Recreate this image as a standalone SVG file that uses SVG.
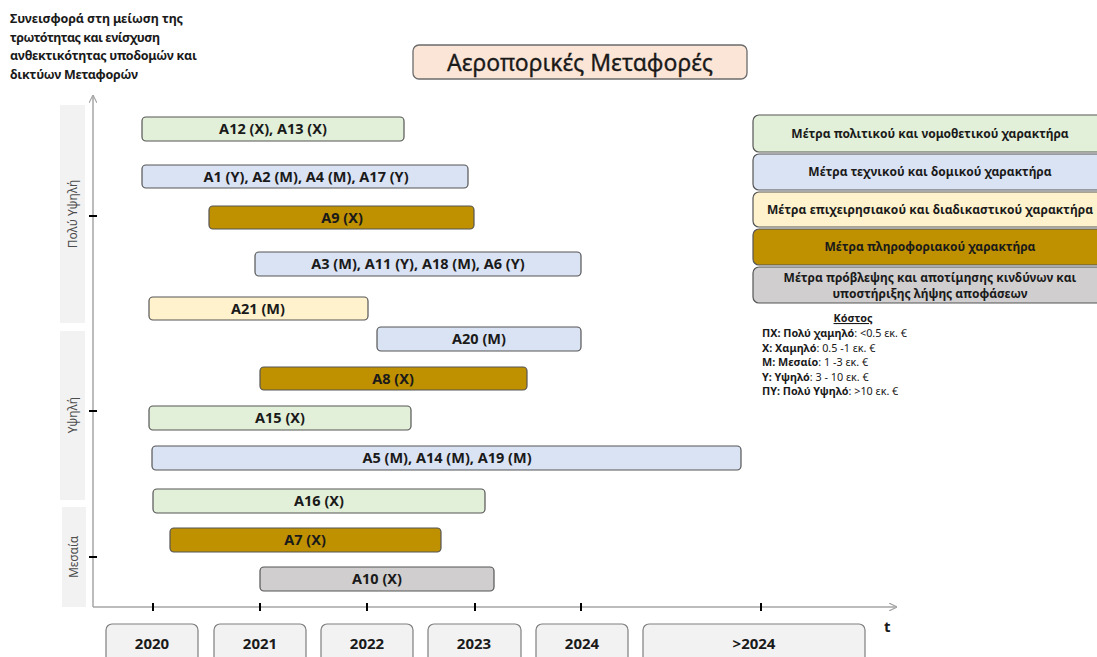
<svg xmlns="http://www.w3.org/2000/svg" width="1097" height="657" viewBox="0 0 1097 657">
  <style>
    text { font-family: "Noto Sans", "Open Sans", sans-serif; fill: #1a1a1a; }
    .b { font-weight: bold; }
    .bar { stroke: #555555; stroke-width: 1.2; }
    .green { fill: #e2f0d9; }
    .blue { fill: #dae3f3; }
    .gold { fill: #bf9000; }
    .yellow { fill: #fff2cc; }
    .grey { fill: #d0cece; }
    .band { fill: #f2f2f2; }
    .year { fill: #f2f2f2; stroke: #7f7f7f; stroke-width: 1.2; }
    .lbl { font-size: 14.5px; font-weight: bold; text-anchor: middle; }
    .yr { font-size: 15px; font-weight: bold; text-anchor: middle; }
    .leg { font-size: 12px; font-weight: bold; text-anchor: middle; }
    .axis { stroke: #a6a6a6; stroke-width: 1.5; fill: none; }
    .tick { stroke: #000; stroke-width: 2; }
    .cat { font-size: 12px; fill: #4d4d4d; text-anchor: middle; }
    .cost { font-size: 10.8px; }
  </style>
  <defs>
    <marker id="arr" viewBox="0 0 10 10" refX="10" refY="5" markerWidth="8" markerHeight="8" orient="auto" markerUnits="userSpaceOnUse">
      <path d="M0,0 L10,5 L0,10" fill="none" stroke="#a6a6a6" stroke-width="1.5"/>
    </marker>
  </defs>

  <!-- heading of the vertical axis -->
  <g id="axis-title" class="b" font-size="12.5">
    <text x="10" y="23" textLength="173">Συνεισφορά στη μείωση της</text>
    <text x="10" y="42" textLength="150">τρωτότητας και ενίσχυση</text>
    <text x="10" y="60" textLength="187">ανθεκτικότητας υποδομών και</text>
    <text x="10" y="79" textLength="128">δικτύων Μεταφορών</text>
  </g>

  <!-- main title -->
  <g id="title">
    <rect x="413" y="45" width="334" height="34" rx="6" fill="#fbe5d6" stroke="#6b6b6b" stroke-width="1.3"/>
    <text x="580" y="70.5" font-size="23" text-anchor="middle" stroke="#1a1a1a" stroke-width="0.3">Αεροπορικές Μεταφορές</text>
  </g>

  <!-- priority bands -->
  <g id="band-very-high">
    <rect class="band" x="60" y="105" width="25" height="218"/>
    <text class="cat" transform="translate(77,214) rotate(-90)">Πολύ Υψηλή</text>
  </g>
  <g id="band-high">
    <rect class="band" x="60" y="331" width="25" height="169"/>
    <text class="cat" transform="translate(77,415) rotate(-90)">Υψηλή</text>
  </g>
  <g id="band-medium">
    <rect class="band" x="62" y="507" width="24" height="100"/>
    <text class="cat" transform="translate(78,557) rotate(-90)">Μεσαία</text>
  </g>

  <!-- axes and ticks -->
  <g id="connectors">
    <path class="axis" d="M93,607 V95" marker-end="url(#arr)"/>
    <path class="axis" d="M93,607 H897" marker-end="url(#arr)"/>
    <path class="tick" d="M89,216 H97 M89,411 H97 M89,557 H97"/>
    <path class="tick" d="M153,603 V611 M260,603 V611 M367,603 V611 M475,603 V611 M581,603 V611 M761,603 V611"/>
  </g>

  <!-- measures -->
  <g id="a12-a13">
    <rect class="bar green" x="142" y="117" width="262" height="24" rx="4"/>
    <text class="lbl" x="273" y="134">A12 (X), A13 (X)</text>
  </g>
  <g id="a1-a2-a4-a17">
    <rect class="bar blue" x="142" y="165" width="326" height="23" rx="4"/>
    <text class="lbl" x="306" y="181.5">A1 (Y), A2 (M), A4 (M), A17 (Y)</text>
  </g>
  <g id="a9">
    <rect class="bar gold" x="209" y="206" width="265" height="23" rx="4"/>
    <text class="lbl" x="342" y="222.5">A9 (X)</text>
  </g>
  <g id="a3-a11-a18-a6">
    <rect class="bar blue" x="255" y="252" width="326" height="24" rx="4"/>
    <text class="lbl" x="418" y="269">A3 (M), A11 (Y), A18 (M), A6 (Y)</text>
  </g>
  <g id="a21">
    <rect class="bar yellow" x="149" y="297" width="219" height="23" rx="4"/>
    <text class="lbl" x="258" y="313.5">A21 (M)</text>
  </g>
  <g id="a20">
    <rect class="bar blue" x="377" y="327" width="204" height="24" rx="4"/>
    <text class="lbl" x="479" y="344">A20 (M)</text>
  </g>
  <g id="a8">
    <rect class="bar gold" x="260" y="367" width="267" height="23" rx="4"/>
    <text class="lbl" x="393" y="383.5">A8 (X)</text>
  </g>
  <g id="a15">
    <rect class="bar green" x="149" y="406" width="262" height="24" rx="4"/>
    <text class="lbl" x="280" y="423">A15 (X)</text>
  </g>
  <g id="a5-a14-a19">
    <rect class="bar blue" x="152" y="446" width="589" height="24" rx="4"/>
    <text class="lbl" x="447" y="463">A5 (M), A14 (M), A19 (M)</text>
  </g>
  <g id="a16">
    <rect class="bar green" x="153" y="489" width="332" height="24" rx="4"/>
    <text class="lbl" x="319" y="506">A16 (X)</text>
  </g>
  <g id="a7">
    <rect class="bar gold" x="170" y="528" width="271" height="24" rx="4"/>
    <text class="lbl" x="305" y="545">A7 (X)</text>
  </g>
  <g id="a10">
    <rect class="bar grey" x="260" y="567" width="234" height="24" rx="4"/>
    <text class="lbl" x="377" y="584">A10 (X)</text>
  </g>

  <!-- years -->
  <g id="y2020"><rect class="year" x="106" y="624" width="92" height="44" rx="6"/><text class="yr" x="152" y="649">2020</text></g>
  <g id="y2021"><rect class="year" x="214" y="624" width="92" height="44" rx="6"/><text class="yr" x="260" y="649">2021</text></g>
  <g id="y2022"><rect class="year" x="321" y="624" width="92" height="44" rx="6"/><text class="yr" x="367" y="649">2022</text></g>
  <g id="y2023"><rect class="year" x="428" y="624" width="93" height="44" rx="6"/><text class="yr" x="474" y="649">2023</text></g>
  <g id="y2024"><rect class="year" x="536" y="624" width="92" height="44" rx="6"/><text class="yr" x="582" y="649">2024</text></g>
  <g id="y-after"><rect class="year" x="643" y="624" width="222" height="44" rx="6"/><text class="yr" x="754" y="649">&gt;2024</text></g>
  <text class="b" x="884" y="632" font-size="15">t</text>

  <!-- measure type legend -->
  <g id="leg-policy">
    <rect class="bar green" x="753" y="115" width="360" height="37" rx="6"/>
    <text class="leg" x="930" y="138">Μέτρα πολιτικού και νομοθετικού χαρακτήρα</text>
  </g>
  <g id="leg-technical">
    <rect class="bar blue" x="753" y="154" width="360" height="36" rx="6"/>
    <text class="leg" x="930" y="176">Μέτρα τεχνικού και δομικού χαρακτήρα</text>
  </g>
  <g id="leg-operational">
    <rect class="bar yellow" x="753" y="192" width="360" height="35" rx="6"/>
    <text class="leg" x="930" y="214" textLength="326">Μέτρα επιχειρησιακού και διαδικαστικού χαρακτήρα</text>
  </g>
  <g id="leg-information">
    <rect class="bar gold" x="753" y="229" width="360" height="36" rx="6"/>
    <text class="leg" x="930" y="251">Μέτρα πληροφοριακού χαρακτήρα</text>
  </g>
  <g id="leg-risk">
    <rect class="bar grey" x="753" y="267" width="360" height="36" rx="6"/>
    <text class="leg" x="930" y="282">Μέτρα πρόβλεψης και αποτίμησης κινδύνων και</text>
    <text class="leg" x="930" y="298">υποστήριξης λήψης αποφάσεων</text>
  </g>

  <!-- cost legend -->
  <g id="cost-legend" class="cost">
    <text class="b" x="853" y="322" text-anchor="middle" text-decoration="underline">Κόστος</text>
    <text x="762" y="337"><tspan class="b">ΠΧ: Πολύ χαμηλό</tspan>: &lt;0.5 εκ. €</text>
    <text x="762" y="352"><tspan class="b">Χ: Χαμηλό</tspan>: 0.5 -1 εκ. €</text>
    <text x="762" y="366"><tspan class="b">Μ: Μεσαίο</tspan>: 1 -3 εκ. €</text>
    <text x="762" y="381"><tspan class="b">Υ: Υψηλό</tspan>: 3 - 10 εκ. €</text>
    <text x="762" y="395"><tspan class="b">ΠΥ: Πολύ Υψηλό</tspan>: &gt;10 εκ. €</text>
  </g>
</svg>
